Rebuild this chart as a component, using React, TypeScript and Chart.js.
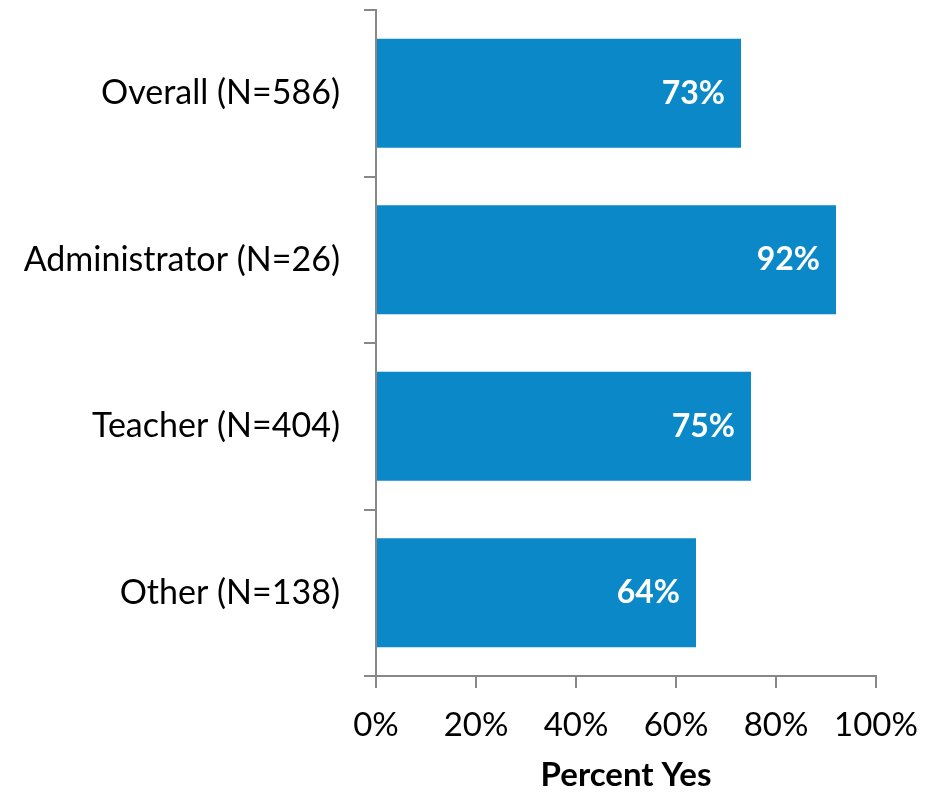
import React, { useEffect, useRef } from "react";
import { Chart, registerables } from "chart.js";

Chart.register(...registerables);

const categories = ["Overall (N=586)", "Administrator (N=26)", "Teacher (N=404)", "Other (N=138)"];
const percentYes = [73, 92, 75, 64];
const xTicks = [0, 20, 40, 60, 80, 100];

const FONT = "Lato, 'Open Sans', sans-serif";

const valueLabels = {
  id: "valueLabels",
  afterDatasetsDraw(chart: any) {
    const ctx = chart.ctx;
    const meta = chart.getDatasetMeta(0);
    ctx.save();
    ctx.fillStyle = "#ffffff";
    ctx.font = `bold 32px ${FONT}`;
    ctx.textAlign = "right";
    ctx.textBaseline = "middle";
    meta.data.forEach((bar: any, i: number) => {
      ctx.fillText(`${percentYes[i]}%`, bar.x - 16, bar.y);
    });
    ctx.restore();
  },
};

export default function App() {
  const ref = useRef<HTMLCanvasElement>(null);
  useEffect(() => {
    if (!ref.current) return;
    const chart = new Chart(ref.current, {
      type: "bar",
      data: {
        labels: categories,
        datasets: [
          {
            data: percentYes,
            backgroundColor: "#0A88C8",
            barPercentage: 0.655,
            categoryPercentage: 1,
          },
        ],
      },
      options: {
        indexAxis: "y",
        animation: false,
        responsive: true,
        maintainAspectRatio: false,
        layout: { padding: { top: 2, right: 41, left: 0, bottom: 0 } },
        plugins: { legend: { display: false }, tooltip: { enabled: false } },
        scales: {
          x: {
            min: 0,
            max: 100,
            afterBuildTicks(scale: any) {
              scale.ticks = xTicks.map((v) => ({ value: v }));
            },
            afterFit(scale: any) {
              scale.height = 118;
              scale.paddingLeft = 0;
              scale.paddingRight = 0;
            },
            border: { color: "#888888", width: 2 },
            grid: { drawOnChartArea: false, tickLength: 12, color: "#888888", lineWidth: 2 },
            ticks: {
              color: "#000000",
              font: { family: FONT, size: 33 },
              padding: 18,
              callback: (v: any) => `${v}%`,
              maxRotation: 0,
            },
            title: {
              display: true,
              text: "Percent Yes",
              color: "#000000",
              font: { family: FONT, size: 33, weight: "bold", lineHeight: 1.0 },
              padding: { top: 0, bottom: 2 },
            },
          },
          y: {
            afterFit(scale: any) {
              scale.width = 368;
              scale.paddingTop = 0;
              scale.paddingBottom = 0;
            },
            border: { color: "#888888", width: 2 },
            grid: { drawOnChartArea: false, tickLength: 12, color: "#888888", lineWidth: 2, offset: true },
            ticks: {
              color: "#000000",
              font: { family: FONT, size: 34 },
              padding: 24,
            },
          },
        },
      },
      plugins: [valueLabels],
    });
    return () => chart.destroy();
  }, []);
  return (
    <div style={{ width: 909, height: 786, marginBottom: -8 }}>
      <canvas ref={ref} />
    </div>
  );
}
